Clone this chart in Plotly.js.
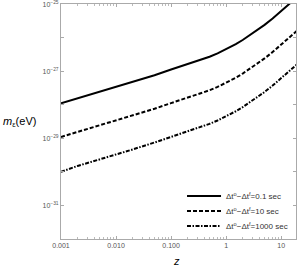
<!DOCTYPE html>
<html>
<head>
<meta charset="utf-8">
<script src="https://cdn.plot.ly/plotly-3.0.1.min.js"></script>
<style>html,body{margin:0;padding:0;background:#fff;}#chart{width:300px;height:267px;}</style>
</head>
<body>
<div id="chart"></div>
<script>
// Redshift values
const zValues = [0.001, 0.002, 0.005, 0.01, 0.02, 0.05, 0.1, 0.2, 0.3, 0.5, 0.7, 1, 1.5, 2, 3, 4, 5, 7, 10, 13, 16, 20];
// m_eps (eV) for each time difference
const mDt01 = [1.1e-28, 1.55e-28, 2.4e-28, 3.3e-28, 4.7e-28, 7.6e-28, 1.12e-27, 1.62e-27, 2.0e-27, 2.7e-27, 3.4e-27, 4.5e-27, 6.4e-27, 8.5e-27, 1.31e-26, 1.83e-26, 2.4e-26, 3.72e-26, 6.05e-26, 8.8e-26, 1.19e-25, 1.67e-25];
const mDt10 = [1.1e-29, 1.55e-29, 2.4e-29, 3.3e-29, 4.7e-29, 7.6e-29, 1.12e-28, 1.62e-28, 2.0e-28, 2.7e-28, 3.4e-28, 4.5e-28, 6.4e-28, 8.5e-28, 1.31e-27, 1.83e-27, 2.4e-27, 3.72e-27, 6.05e-27, 8.8e-27, 1.19e-26, 1.67e-26];
const mDt1000 = [1.0e-30, 1.5e-30, 2.35e-30, 3.25e-30, 4.65e-30, 7.5e-30, 1.1e-29, 1.6e-29, 2.0e-29, 2.7e-29, 3.4e-29, 4.5e-29, 6.4e-29, 8.5e-29, 1.31e-28, 1.83e-28, 2.4e-28, 3.72e-28, 6.05e-28, 8.8e-28, 1.19e-27, 1.67e-27];
const seriesNames = ["Δt<sup>o</sup>−Δt<sup>f</sup>=0.1 sec", "Δt<sup>o</sup>−Δt<sup>f</sup>=10 sec", "Δt<sup>o</sup>−Δt<sup>f</sup>=1000 sec"];
const xTickVals = [0.001, 0.01, 0.1, 1, 10];
const xTickText = ["0.001", "0.010", "0.100", "1", "10"];
const yTickVals = [1e-31, 1e-30, 1e-29, 1e-28, 1e-27, 1e-26, 1e-25];
const yTickText = ["10<sup>−31</sup>", "", "10<sup>−29</sup>", "", "10<sup>−27</sup>", "", "10<sup>−25</sup>"];

const xMinor = [];
for (let d = -3; d <= 1; d++) for (let k = 2; k <= 9; k++) xMinor.push(k * Math.pow(10, d));

const traces = [
  {x: zValues, y: mDt01, name: seriesNames[0], legend: 'legend', mode: 'lines', line: {color: '#000', width: 2, dash: 'solid'}},
  {x: zValues, y: mDt10, name: seriesNames[1], legend: 'legend2', mode: 'lines', line: {color: '#000', width: 2, dash: '4px,2px'}},
  {x: zValues, y: mDt1000, name: seriesNames[2], legend: 'legend3', mode: 'lines', line: {color: '#000', width: 2, dash: '4px,1.5px,1.5px,1.5px'}}
];

const axisCommon = {
  showgrid: false, zeroline: false, showline: true, linecolor: '#aaa', linewidth: 1,
  mirror: 'ticks', ticks: 'inside', ticklen: 3, tickcolor: '#aaa', tickwidth: 1,
  ticklabeloverflow: 'allow',
  tickfont: {family: 'Liberation Sans, Arial, sans-serif', size: 7, color: '#555'}
};

function legendAt(yPaper) {
  return {x: 0.515, y: yPaper, xanchor: 'left', yanchor: 'middle', bgcolor: 'rgba(0,0,0,0)',
          font: {family: 'Liberation Sans, Arial, sans-serif', size: 8, color: '#333'},
          itemwidth: 34};
}

const layout = {
  width: 300, height: 267,
  margin: {l: 61, r: 4, t: 4, b: 28},
  paper_bgcolor: '#fff', plot_bgcolor: '#fff',
  showlegend: true,
  legend: legendAt(0.183),
  legend2: legendAt(0.119),
  legend3: legendAt(0.055),
  xaxis: Object.assign({}, axisCommon, {
    type: 'log', range: [-3, 1.27], tickmode: 'array', tickvals: xTickVals, ticktext: xTickText,
    minor: {tickmode: 'array', tickvals: xMinor, ticks: 'inside', ticklen: 2, tickcolor: '#bbb', showgrid: false}
  }),
  yaxis: Object.assign({}, axisCommon, {
    type: 'log', range: [-32, -24.998], tickmode: 'array', tickvals: yTickVals, ticktext: yTickText
  }),
  annotations: [
    {text: '<i>m</i><sub>ε</sub>(eV)', xref: 'paper', yref: 'paper', x: -0.255, y: 0.5, xanchor: 'left', yanchor: 'middle',
     showarrow: false, font: {family: 'Liberation Sans, Arial, sans-serif', size: 11, color: '#000'}},
    {text: '<i>z</i>', xref: 'paper', yref: 'paper', x: 0.49, y: -0.095, xanchor: 'center', yanchor: 'middle',
     showarrow: false, font: {family: 'Liberation Sans, Arial, sans-serif', size: 11, color: '#000'}}
  ]
};

Plotly.newPlot('chart', traces, layout, {displayModeBar: false, staticPlot: true});
</script>
</body>
</html>
